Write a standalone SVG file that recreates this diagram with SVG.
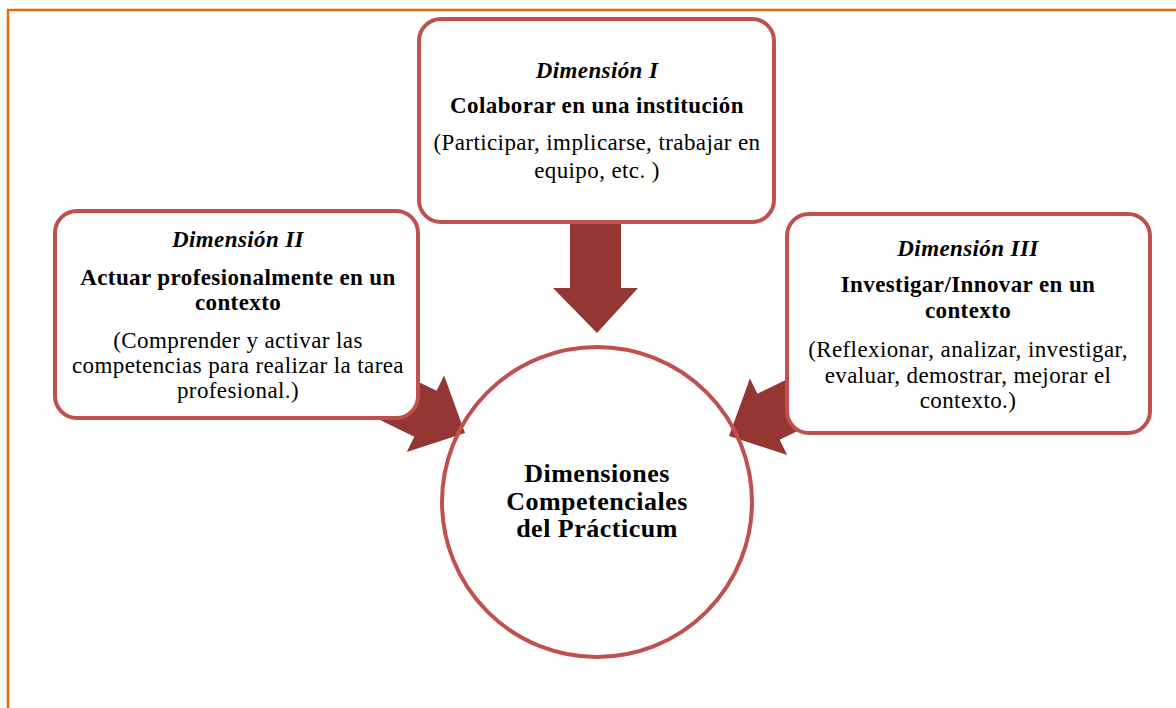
<svg xmlns="http://www.w3.org/2000/svg" width="1176" height="708" viewBox="0 0 1176 708">
<style>
.box{fill:#fff;stroke:#C0504D;stroke-width:4}
.arr{fill:#943634}
text{font-family:"Liberation Serif","Times New Roman",serif;font-size:23px;fill:#000;text-anchor:middle;letter-spacing:0.4px}
.ti{font-style:italic;font-weight:bold}
.tb{font-weight:bold}
.tc{font-weight:bold;font-size:26px;letter-spacing:0.5px}
</style>
<rect width="1176" height="708" fill="#fff"/>
<path d="M8 708 V10 H1176" fill="none" stroke="#E36C0A" stroke-width="2.5"/>
<g id="connectors">
<polygon class="arr" points="570,215 621,215 621,288 638,288 597,333 553,288 570,288"/>
<polygon class="arr" transform="translate(465,433) rotate(26)" points="0,0 -44,-42.5 -44,-25.5 -140,-25.5 -140,25.5 -44,25.5 -44,42.5"/>
<polygon class="arr" transform="translate(729,436) rotate(154)" points="0,0 -44,-42.5 -44,-25.5 -140,-25.5 -140,25.5 -44,25.5 -44,42.5"/>
</g>
<g id="center">
<circle cx="597" cy="502" r="155" fill="none" stroke="#C0504D" stroke-width="4"/>
<text class="tc" x="597" y="482">Dimensiones</text>
<text class="tc" x="597" y="510">Competenciales</text>
<text class="tc" x="597" y="537">del Prácticum</text>
</g>
<g id="dim1">
<rect class="box" x="419" y="19" width="355" height="203" rx="22"/>
<text class="ti" x="597" y="78">Dimensión I</text>
<text class="tb" x="597" y="113">Colaborar en una institución</text>
<text x="597" y="150">(Participar, implicarse, trabajar en</text>
<text x="597" y="178">equipo, etc. )</text>
</g>
<g id="dim2">
<rect class="box" x="55" y="211" width="363" height="207" rx="22"/>
<text class="ti" x="238" y="247">Dimensión II</text>
<text class="tb" x="238" y="285">Actuar profesionalmente en un</text>
<text class="tb" x="238" y="310">contexto</text>
<text x="238" y="348">(Comprender y activar las</text>
<text x="238" y="373">competencias para realizar la tarea</text>
<text x="238" y="398">profesional.)</text>
</g>
<g id="dim3">
<rect class="box" x="787" y="214" width="363" height="219" rx="22"/>
<text class="ti" x="968" y="256">Dimensión III</text>
<text class="tb" x="968" y="292">Investigar/Innovar en un</text>
<text class="tb" x="968" y="318">contexto</text>
<text x="968" y="357">(Reflexionar, analizar, investigar,</text>
<text x="968" y="383">evaluar, demostrar, mejorar el</text>
<text x="968" y="408">contexto.)</text>
</g>
</svg>
